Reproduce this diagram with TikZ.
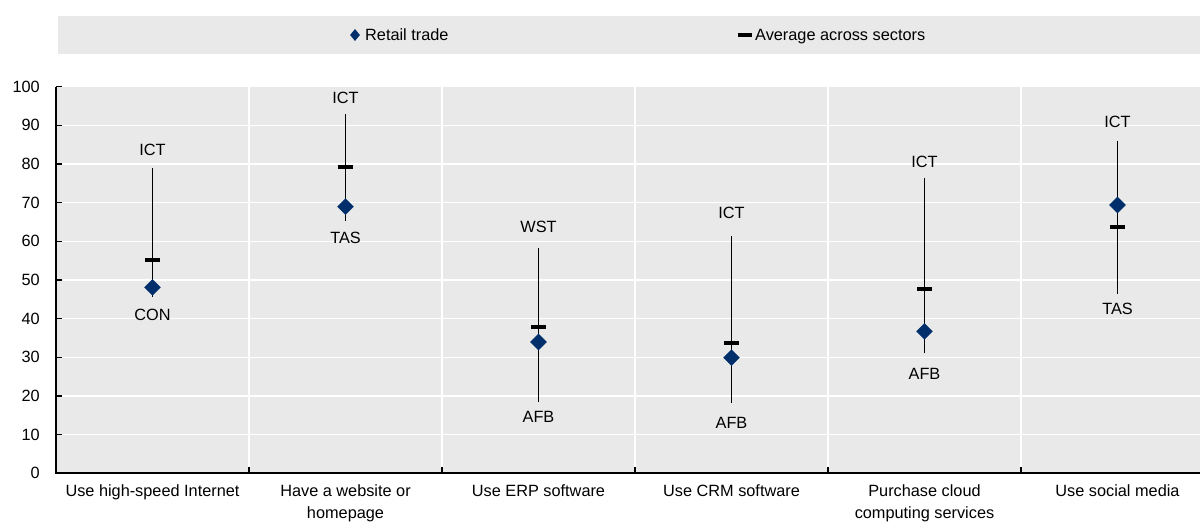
\documentclass[tikz,border=0pt]{standalone}
\usepackage{fontspec}
\setmainfont{Liberation Sans}
\usetikzlibrary{shapes.geometric}
\definecolor{bggray}{RGB}{233,233,233}
\definecolor{oecdblue}{RGB}{0,47,108}
\tikzset{
  grid/.style={white, line width=1.5pt},
  axisline/.style={black, line width=2pt},
  tickline/.style={black, line width=1.5pt},
  whisker/.style={black, line width=1pt},
  avgmark/.style={black, line width=4pt},
  retail/.style={shape=diamond, fill=oecdblue, draw=none, inner sep=0pt, minimum width=16.7pt, minimum height=16.7pt},
  lab/.style={inner sep=0pt, anchor=center},
  xlab/.style={inner sep=0pt, anchor=north, align=center},
  ylab/.style={inner sep=0pt, anchor=east},
  legtext/.style={inner sep=0pt, anchor=base west},
}
\begin{document}
\begin{tikzpicture}[x=1pt, y=-1pt, font=\fontsize{16.3}{22}\selectfont]
\useasboundingbox (0,0) rectangle (1200,522);
% legend band
\fill[bggray] (58,16) rectangle (1200,54);
\node[retail, minimum width=10pt, minimum height=12pt] (legR) at (355,35) {};
\node[legtext] (legRt) at (365,40.9) {Retail trade};
\draw[avgmark] (738,35) coordinate (legA1) -- (752,35) coordinate (legA2);
\node[legtext] (legAt) at (755,40.9) {Average across sectors};
% plot background
\fill[bggray] (56,86.7) rectangle (1200,473.3);
\foreach \v in {10,20,...,100}
  \draw[grid] (56,{473.3-3.866*\v}) -- (1200,{473.3-3.866*\v});
\foreach \s in {249,442,635,828,1021}
  \draw[grid] (\s,86.7) -- (\s,473.3);
% axes
\draw[axisline] (56,86.7) -- (56,473.3) -- (1200,473.3);
\foreach \v in {0,10,...,100} {
  \draw[tickline] (56,{473.3-3.866*\v}) -- (62,{473.3-3.866*\v});
  \node[ylab] (y\v) at (40,{473.3-3.866*\v}) {\v};
}
\foreach \s in {249,442,635,828,1021}
  \draw[tickline] (\s,467) -- (\s,473.3);
% category labels
\foreach \i/\x/\t in {1/152.5/Use high-speed Internet, 2/345.5/{Have a website or\\homepage}, 3/538.5/Use ERP software, 4/731.5/Use CRM software, 5/924.5/{Purchase cloud\\computing services}, 6/1117.5/Use social media}
  \node[xlab] (cat\i) at (\x,484) {\t};
% data
\foreach \i/\x/\top/\avg/\dia/\bot/\lt/\lb/\tl/\bl in {
  1/152.5/168.3/260/287.3/297/150/315/ICT/CON,
  2/345.5/114.3/167.3/206.7/220.7/98.3/238.3/ICT/TAS,
  3/538.5/247.7/327/342/402/227.3/417/WST/AFB,
  4/731.5/236/342.7/357.7/402.7/213.3/422.7/ICT/AFB,
  5/924.5/178/289.3/331.3/352.7/162/374/ICT/AFB,
  6/1117.5/140.7/227.3/205/294.3/121.7/309.3/ICT/TAS} {
  \coordinate (hi\i) at (\x,\top);
  \coordinate (lo\i) at (\x,\bot);
  \draw[whisker] (hi\i) -- (lo\i);
  \coordinate (avgL\i) at ({\x-7.5},\avg);
  \coordinate (avgR\i) at ({\x+7.5},\avg);
  \draw[avgmark] (avgL\i) -- (avgR\i);
  \node[retail] (r\i) at (\x,\dia) {};
  \node[lab] (tl\i) at (\x,\lt) {\tl};
  \node[lab] (bl\i) at (\x,\lb) {\bl};
}
\end{tikzpicture}
\end{document}
